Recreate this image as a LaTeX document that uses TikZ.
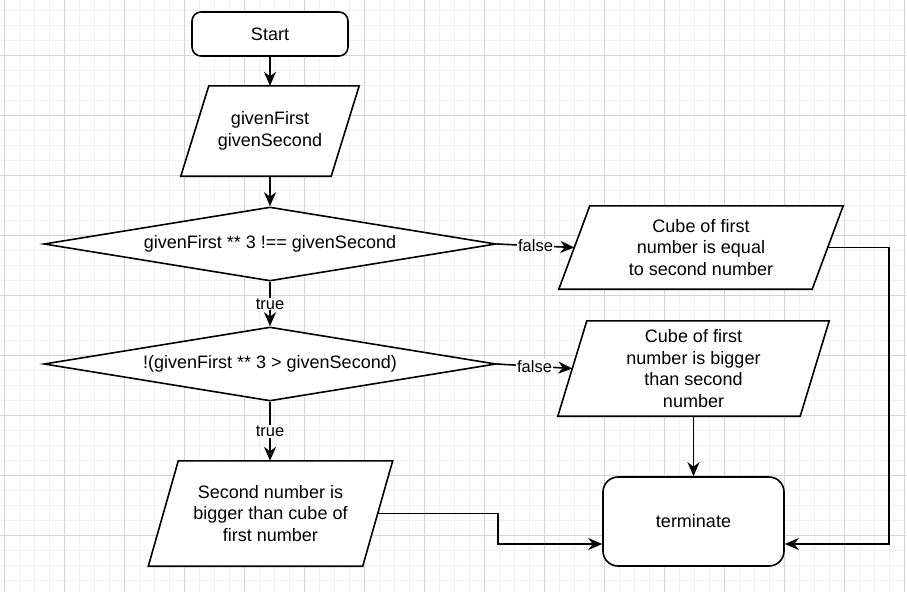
\documentclass[tikz,border=0pt]{standalone}
\usepackage{fontspec}
\setmainfont{Liberation Sans}
\usetikzlibrary{shapes.geometric,arrows.meta}
\definecolor{gridminor}{RGB}{242,242,242}
\definecolor{gridmajor}{RGB}{212,212,212}
\pgfdeclarelayer{grid}
\pgfdeclarelayer{shapes}
\pgfsetlayers{grid,shapes,main}
\newcommand\paraoutline[2]{%
  \filldraw[outline] ([xshift=#2]#1.north west) -- (#1.north east) -- ([xshift=-#2]#1.south east) -- (#1.south west) -- cycle;}
\begin{document}
\begin{tikzpicture}[x=1pt,y=-1pt,
  outline/.style={draw=black,line width=1.6pt,fill=white},
  txt/.style={font=\fontsize{18}{21.6}\selectfont,align=center,text=black},
  term/.style={outline,txt,rectangle,rounded corners=#1,inner sep=0pt},
  dec/.style={outline,txt,diamond,aspect=6.1,minimum width=452pt,minimum height=74pt,inner sep=0pt},
  para/.style={txt,rectangle,inner sep=0pt},
  conn/.style={line width=1.6pt,draw=black,-{Stealth[length=14pt,width=12pt,inset=4.5pt]}},
  lbl/.style={font=\fontsize{16.5}{19}\selectfont,fill=white,inner sep=1pt,text=black},
  minorgrid/.style={draw=gridminor,line width=1pt},
  majorgrid/.style={draw=gridmajor,line width=1pt}]
\useasboundingbox (0,0) rectangle (907,592);
\begin{pgfonlayer}{grid}
  \fill[white] (0,0) rectangle (907,592);
  \foreach \x in {4,19,...,904} \draw[minorgrid] (\x,0) -- (\x,592);
  \foreach \y in {10,25,...,590} \draw[minorgrid] (0,\y) -- (907,\y);
  \foreach \x in {4,64,...,904} \draw[majorgrid] (\x,0) -- (\x,592);
  \foreach \y in {55,115,...,535} \draw[majorgrid] (0,\y) -- (907,\y);
\end{pgfonlayer}

\node[term=9pt, minimum width=156pt, minimum height=44pt] (start) at (270,34) {Start};
\node[para, minimum width=178pt, minimum height=90pt] (in1) at (270,131) {givenFirst\\givenSecond};
\node[dec] (d1) at (270,244) {givenFirst ** 3 !== givenSecond};
\node[dec] (d2) at (270,364) {!(givenFirst ** 3 > givenSecond)};
\node[para, minimum width=284pt, minimum height=83pt] (o1) at (701,247.5) {Cube of first\\number is equal\\to second number};
\node[para, minimum width=271pt, minimum height=95pt] (o2) at (693.5,368.5) {Cube of first\\number is bigger\\than second\\number};
\node[para, minimum width=244pt, minimum height=105pt] (in3) at (270.5,513.5) {Second number is\\bigger than cube of\\first number};
\node[term=15pt, minimum width=181pt, minimum height=89pt] (t) at (693.5,521.5) {terminate};

\begin{pgfonlayer}{shapes}
  \paraoutline{in1}{28pt}
  \paraoutline{o1}{31pt}
  \paraoutline{o2}{29pt}
  \paraoutline{in3}{30pt}
\end{pgfonlayer}

\coordinate (cr) at (889,544);
\coordinate (cl) at (498,544);

\draw[conn] (start) -- (in1);
\draw[conn] (in1) -- (d1);
\draw[conn] (d1) -- node[lbl]{true} (d2);
\draw[conn] (d2.south) -- node[lbl]{true} (d2.south |- in3.north);
\draw[conn] (d1.east) -- node[lbl]{false} ([xshift=15.5pt]o1.west);
\draw[conn] (d2.east) -- node[lbl]{false} ([xshift=14.5pt]o2.west);
\draw[conn] (o2) -- (t);
\draw[conn] ([xshift=-15.5pt]o1.east) -| (cr) -- ([yshift=-22.5pt]t.east);
\draw[conn] ([xshift=-15pt]in3.east) -| (cl) -- ([yshift=-22.5pt]t.west);
\end{tikzpicture}
\end{document}
